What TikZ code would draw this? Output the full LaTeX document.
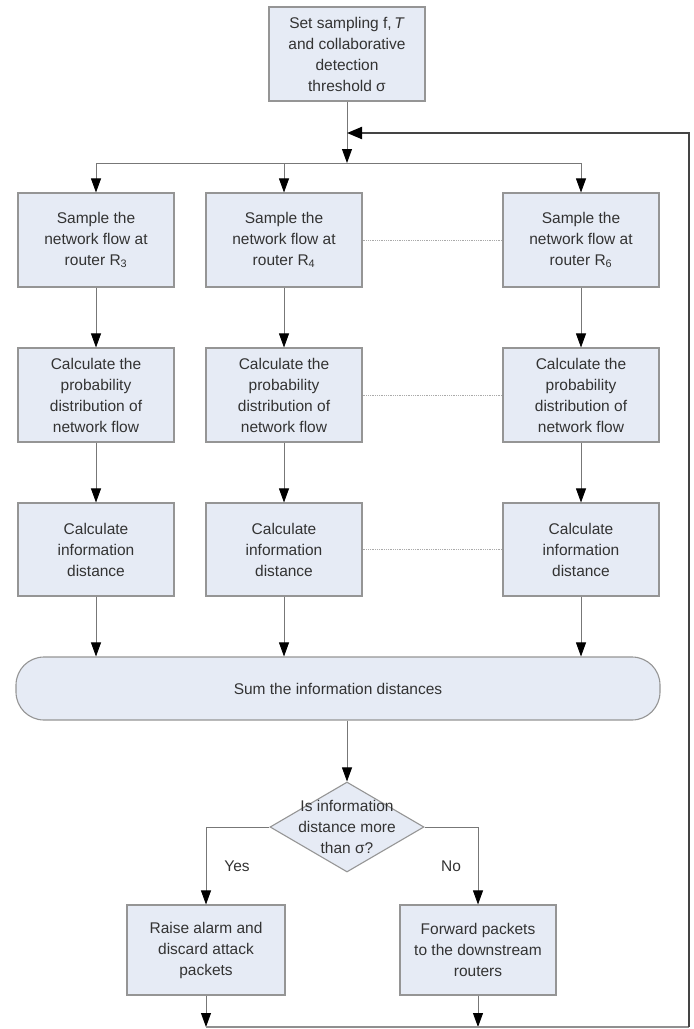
\documentclass[tikz,border=0pt]{standalone}
\usepackage{fontspec}
\setmainfont{Liberation Sans}
\usetikzlibrary{arrows.meta,shapes.geometric}
\definecolor{boxfill}{HTML}{E6EBF5}
\definecolor{boxline}{HTML}{959595}
\definecolor{txt}{HTML}{333333}
\definecolor{conn}{HTML}{777777}
\definecolor{fback}{HTML}{444444}
\tikzset{
  procbox/.style={draw=boxline, fill=boxfill, line width=1.1pt, minimum width=156pt, minimum height=94pt,
    inner sep=2pt, align=center, text=txt, font=\fontsize{15.5}{21}\selectfont},
  flow/.style={draw=conn, line width=0.8pt, -{Triangle[width=10pt,length=14pt,color=black,fill=black]}},
  plain/.style={draw=conn, line width=0.8pt},
  dotlink/.style={draw=boxline!80, line width=0.8pt, densely dotted},
  feed/.style={draw=fback, line width=2pt},
  lbl/.style={text=txt, font=\fontsize{15.5}{21}\selectfont}
}
\begin{document}
\begin{tikzpicture}[x=1pt,y=-1pt]
\useasboundingbox (0,0) rectangle (694,1029);
% top
\node[procbox, minimum height=94pt] (top) at (347,54) {Set sampling f,\,\textit{T}\\and collaborative\\detection\\threshold σ};
% columns
\node[procbox] (s1) at (96,240) {Sample the\\network flow at\\router R\textsubscript{3}};
\node[procbox] (s2) at (284,240) {Sample the\\network flow at\\router R\textsubscript{4}};
\node[procbox] (s3) at (581,240) {Sample the\\network flow at\\router R\textsubscript{6}};
\node[procbox] (p1) at (96,395) {Calculate the\\probability\\distribution of\\network flow};
\node[procbox] (p2) at (284,395) {Calculate the\\probability\\distribution of\\network flow};
\node[procbox] (p3) at (581,395) {Calculate the\\probability\\distribution of\\network flow};
\node[procbox, minimum height=93pt] (c1) at (96,549.5) {Calculate\\information\\distance};
\node[procbox, minimum height=93pt] (c2) at (284,549.5) {Calculate\\information\\distance};
\node[procbox, minimum height=93pt] (c3) at (581,549.5) {Calculate\\information\\distance};
% sum
\node[procbox, rounded corners=28pt, minimum width=644pt, minimum height=63pt] (sum) at (338,688.5) {Sum the information distances};
% decision
\node[diamond, draw=boxline, fill=boxfill, line width=1.1pt, minimum width=154pt, minimum height=90pt, inner sep=0pt] (dec) at (347,827) {};
\node[lbl, align=center] (dectxt) at (dec.center) {Is information\\distance more\\than σ?};
% outcomes
\node[procbox, minimum width=158pt, minimum height=90pt] (alarm) at (206,950) {Raise alarm and\\discard attack\\packets};
\node[procbox, minimum width=156pt, minimum height=90pt] (fwd) at (478,950) {Forward packets\\to the downstream\\routers};
% coordinates
\coordinate (b0) at (347,163);
\coordinate (bl) at (96,163);
\coordinate (br) at (581,163);
\coordinate (fin) at (347,133);
\coordinate (fr) at (689,133);
\coordinate (fb) at (689,1027);
\coordinate (ba) at (206,1027);
\coordinate (bf) at (478,1027);
\coordinate (yl) at (206,827);
\coordinate (yr) at (478,827);
% trunk and branches
\draw[flow] (top.south) -- (b0);
\draw[plain] (bl) -- (br);
\draw[flow] (bl) -- (s1.north);
\draw[flow] (b0 -| s2.north) -- (s2.north);
\draw[flow] (br) -- (s3.north);
% column flows
\draw[flow] (s1) -- (p1);
\draw[flow] (s2) -- (p2);
\draw[flow] (s3) -- (p3);
\draw[flow] (p1) -- (c1);
\draw[flow] (p2) -- (c2);
\draw[flow] (p3) -- (c3);
\draw[flow] (c1.south) -- (c1.south |- sum.north);
\draw[flow] (c2.south) -- (c2.south |- sum.north);
\draw[flow] (c3.south) -- (c3.south |- sum.north);
% dotted links
\draw[dotlink] (s2.east) -- (s3.west);
\draw[dotlink] (p2.east) -- (p3.west);
\draw[dotlink] (c2.east) -- (c3.west);
% sum to decision
\draw[flow] (sum.south -| dec.north) -- (dec.north);
\draw[plain] (dec.west) -- (yl);
\draw[flow] (yl) -- (alarm.north);
\draw[plain] (dec.east) -- (yr);
\draw[flow] (yr) -- (fwd.north);
\node[lbl] (yes) at (237,866) {Yes};
\node[lbl] (no) at (451,866) {No};
% outputs and feedback
\draw[flow] (alarm.south) -- (ba);
\draw[flow] (fwd.south) -- (bf);
\draw[feed, draw=fback!60] (ba) -- (fb);
\draw[feed, -{Triangle[width=12pt,length=15pt,color=black,fill=black]}] (fb) -- (fr) -- (fin);
\end{tikzpicture}
\end{document}
